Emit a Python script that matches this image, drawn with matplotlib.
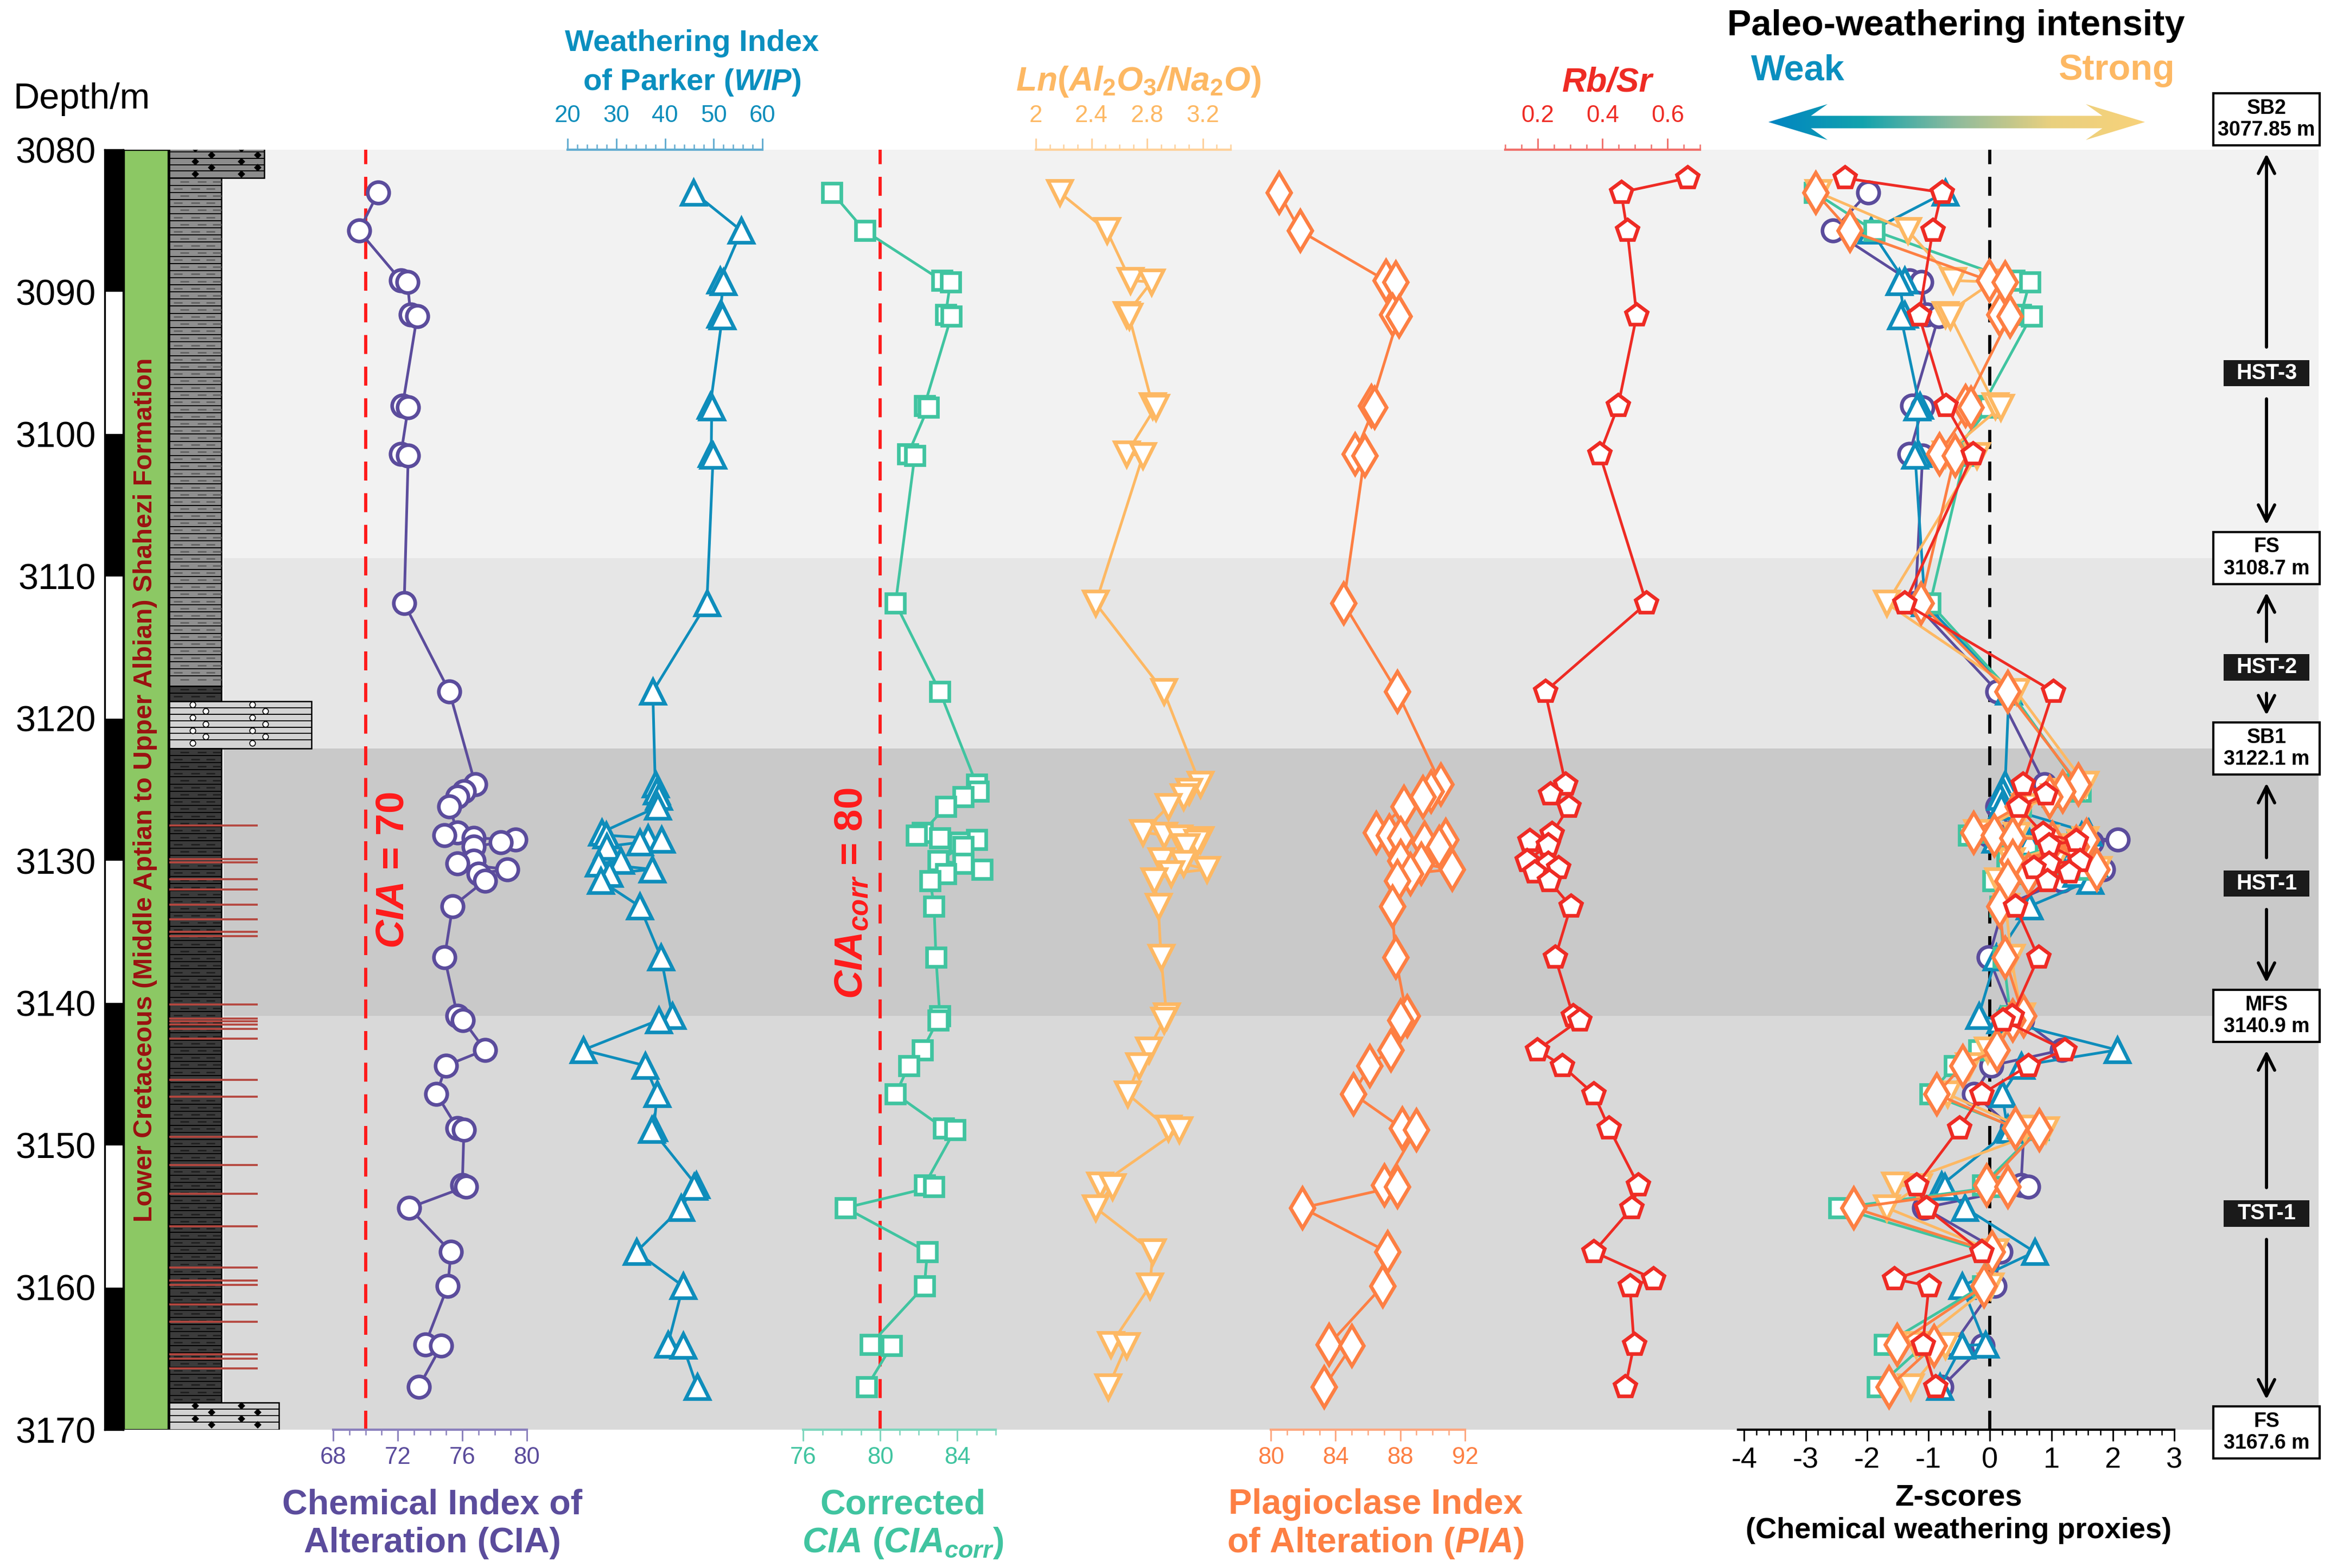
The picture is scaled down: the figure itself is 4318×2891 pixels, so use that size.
import numpy as np
import matplotlib
matplotlib.use('Agg')
import matplotlib.pyplot as plt
from matplotlib.patches import Rectangle, Polygon
from matplotlib.colors import LinearSegmentedColormap
from matplotlib.ticker import FixedLocator, MultipleLocator, FormatStrFormatter

plt.rcParams.update({
    'font.family': ['Liberation Sans', 'DejaVu Sans'],
    'mathtext.fontset': 'custom',
    'mathtext.rm': 'Liberation Sans:bold',
    'mathtext.it': 'Liberation Sans:italic:bold',
    'mathtext.bf': 'Liberation Sans:bold',
})

# ============================================================
# DATA
# ============================================================
DEPTH = [3083.0, 3085.7, 3089.2, 3089.3, 3091.6, 3091.7, 3098.0, 3098.1, 3101.4, 3101.5,
         3111.9, 3118.1, 3124.6, 3125.1, 3125.5, 3126.2, 3128.0, 3128.2, 3128.4, 3128.5,
         3128.7, 3129.0, 3130.0, 3130.2, 3130.6, 3130.9, 3131.4, 3133.2, 3136.8, 3140.9,
         3141.2, 3143.3, 3144.4, 3146.4, 3148.8, 3148.9, 3152.8, 3152.9, 3154.4, 3157.5,
         3159.9, 3164.0, 3164.1, 3167.0]

CIA = [70.8, 69.6, 72.2, 72.6, 72.8, 73.2, 72.3, 72.65, 72.2, 72.65,
       72.4, 75.2, 76.8, 76.1, 75.7, 75.2, 75.7, 74.9, 76.7, 79.3,
       78.4, 76.7, 76.7, 75.7, 78.8, 77.0, 77.4, 75.4, 74.9, 75.7,
       76.05, 77.4, 75.0, 74.4, 75.7, 76.1, 76.0, 76.25, 72.7, 75.3,
       75.1, 73.7, 74.7, 73.3]

WIP = [45.9, 55.7, 51.3, 52.0, 51.3, 51.8, 49.3, 49.6, 49.5, 49.9,
       48.6, 37.5, 38.0, 38.3, 38.7, 38.5, 27.0, 27.9, 36.5, 39.3,
       34.8, 28.0, 30.9, 26.3, 37.4, 28.6, 26.8, 34.8, 39.2, 41.5,
       38.7, 23.2, 35.9, 38.4, 37.7, 37.3, 46.4, 46.0, 43.3, 34.1,
       43.7, 40.6, 43.7, 46.6]

CIA_CORR = [77.5, 79.2, 83.2, 83.65, 83.4, 83.7, 82.3, 82.5, 81.45, 81.8,
            80.8, 83.1, 85.0, 85.1, 84.3, 83.4, 82.2, 81.9, 83.1, 85.0,
            84.1, 84.3, 83.0, 84.3, 85.3, 83.4, 82.6, 82.8, 82.9, 83.1,
            83.0, 82.2, 81.5, 80.8, 83.3, 83.9, 82.3, 82.8, 78.2, 82.45,
            82.3, 79.5, 80.6, 79.3]

LN_AL_NA = [2.17, 2.51, 2.68, 2.83, 2.65, 2.67, 2.84, 2.86, 2.65, 2.77,
            2.43, 2.92, 3.18, 3.10, 3.06, 2.95, 2.77, 2.92, 3.03, 3.18,
            3.16, 3.08, 2.90, 3.06, 3.23, 2.97, 2.85, 2.88, 2.90, 2.94,
            2.92, 2.81, 2.74, 2.66, 2.95, 3.03, 2.46, 2.55, 2.43, 2.84,
            2.82, 2.54, 2.65, 2.52]

PIA = [80.5, 81.8, 87.1, 87.7, 87.5, 87.9, 86.2, 86.4, 85.2, 85.8,
       84.5, 87.8, 90.5, 89.9, 89.4, 88.2, 86.5, 87.3, 88.0, 90.8,
       89.5, 90.4, 88.0, 89.3, 91.2, 88.6, 87.8, 87.5, 87.7, 88.4,
       88.0, 87.4, 86.1, 85.1, 88.1, 89.0, 87.0, 87.8, 81.95, 87.2,
       86.9, 83.6, 85.0, 83.3]

# Rb/Sr was measured on a slightly different sample set
RBSR_DEPTH = [3082.0, 3083.0, 3085.7, 3091.65, 3098.0, 3101.4, 3111.9, 3118.1, 3124.6, 3125.3,
              3126.2, 3128.1, 3128.6, 3128.9, 3130.0, 3130.2, 3130.5, 3130.8, 3131.4, 3133.2,
              3136.8, 3140.9, 3141.2, 3143.3, 3144.4, 3146.4, 3148.8, 3152.8, 3154.4, 3157.5,
              3159.4, 3159.9, 3164.0, 3167.0]
RBSR = [0.661, 0.457, 0.476, 0.505, 0.448, 0.391, 0.535, 0.223, 0.286, 0.239,
        0.296, 0.244, 0.175, 0.232, 0.167, 0.232, 0.264, 0.190, 0.235, 0.302,
        0.254, 0.309, 0.329, 0.199, 0.275, 0.373, 0.420, 0.510, 0.490, 0.373,
        0.557, 0.484, 0.497, 0.470]

# lithology log
LITH_TOP = [3079.7, 3082.0, 3117.7, 3118.8, 3122.1, 3168.1]
LITH_BASE = [3082.0, 3117.7, 3118.8, 3122.1, 3168.1, 3170.0]
LITH_KIND = ['sand_grey', 'mud_grey', 'mud_dark', 'congl', 'mud_dark', 'sand_light']
RED_LINES = [3127.5, 3129.9, 3130.1, 3131.3, 3132.0, 3133.1, 3134.1, 3135.0, 3135.3,
             3140.1, 3141.1, 3141.3, 3141.5, 3141.8, 3142.5, 3145.4, 3146.6, 3149.4,
             3151.4, 3153.4, 3155.7, 3158.6, 3159.5, 3159.8, 3161.2, 3162.4, 3164.7,
             3165.0, 3165.7]

# sequence stratigraphy
SURF_NAMES = ['SB2', 'FS', 'SB1', 'MFS', 'FS']
SURF_DEPTHS = [3077.85, 3108.7, 3122.1, 3140.9, 3167.6]
TRACT_NAMES = ['HST-3', 'HST-2', 'HST-1', 'TST-1']
TRACT_MID = [3095.7, 3116.4, 3131.6, 3154.8]
BAND_COLORS = ['#f2f2f2', '#e6e6e6', '#c9c9c9', '#d9d9d9']

# ============================================================
# STYLE / LAYOUT (pixel coords of the 4318 x 2891 canvas)
# ============================================================
W, H = 4318, 2891
TOP_PX, BOT_PX = 276, 2636
D_TOP, D_BOT = 3080, 3170

C_CIA = '#5b4c9c'
C_WIP = '#0e8dbb'
C_CORR = '#40c4a0'
C_LN = '#fdb863'
C_PIA = '#fd7f43'
C_RB = '#ee2b24'


def px_rect(x0, x1):
    return [x0 / W, 1 - BOT_PX / H, (x1 - x0) / W, (BOT_PX - TOP_PX) / H]


fig = plt.figure(figsize=(W / 300, H / 300), dpi=300)

# ---------------- base axes: background, lithology, sequences ----------------
base = fig.add_axes(px_rect(0, W))
base.set_xlim(0, W)
base.set_ylim(D_BOT, D_TOP)
base.axis('off')

band_edges = [D_TOP] + SURF_DEPTHS[1:4] + [D_BOT]
for i, c in enumerate(BAND_COLORS):
    base.fill_between([412, 4273], band_edges[i], band_edges[i + 1], color=c, lw=0, zorder=0)

# formation column
base.add_patch(Rectangle((228, D_TOP), 82, D_BOT - D_TOP, fc='#8cc864', ec='black', lw=0.8, zorder=2))
base.text(268, 3125, 'Lower Cretaceous (Middle Aptian to Upper Albian) Shahezi Formation',
          rotation=90, color='#9b1111', fontsize=11.6, fontweight='bold', ha='center', va='center', zorder=3)

# lithology column
LX0 = 312
kind_style = {'sand_grey': ('#8c8c8c', 487), 'mud_grey': ('#8f8f8f', 408),
              'mud_dark': ('#3b3b3b', 408), 'congl': ('#d3d3d3', 574),
              'sand_light': ('#d2d2d2', 514)}
for top, bot, kind in zip(LITH_TOP, LITH_BASE, LITH_KIND):
    fc, xr = kind_style[kind]
    base.add_patch(Rectangle((LX0, top), xr - LX0, bot - top, fc=fc, ec='black', lw=0.6, zorder=2))
    row = 0.5 if kind.startswith('mud') else 0.45
    edges = np.arange(top, bot + 1e-6, row)
    base.hlines(edges[1:-1], LX0, xr, color='black', lw=0.45, zorder=3)
    for j, (a, b) in enumerate(zip(edges[:-1], edges[1:])):
        yc = (a + b) / 2
        if kind.startswith('mud'):
            xs = np.array([340, 372, 400]) - (12 if j % 2 else 0)
            base.plot(xs, [yc] * 3, ls='', marker='_', ms=4, mew=0.6,
                      color='#1c1c1c' if kind == 'mud_dark' else '#5c5c5c', zorder=3)
        elif kind == 'congl':
            xs = np.arange(355, 560, 110) + (24 if j % 2 else 0)
            base.plot(xs, [yc] * len(xs), ls='', marker='o', ms=2.5, mfc='white', mec='black', mew=0.4, zorder=3)
        else:
            xs = np.arange(360, xr - 20, 85) + (30 if j % 2 else 0)
            base.plot(xs, [yc] * len(xs), ls='', marker='D', ms=1.3, color='black', zorder=3)
base.hlines(RED_LINES, LX0, 475, color='#b5473f', lw=0.9, zorder=4)

# sequence boxes and arrows
XC = 4177
BOX_HALF = 1.83
TR_HALF = 0.92
box_y = list(SURF_DEPTHS)
box_y[-1] = 3170.2          # last label sits just below the log
for name, d, yb in zip(SURF_NAMES, SURF_DEPTHS, box_y):
    base.add_patch(Rectangle((XC - 98, yb - BOX_HALF), 196, 2 * BOX_HALF, fc='white', ec='black',
                             lw=1.0, clip_on=False, zorder=5))
    base.text(XC, yb, f'{name}\n{d:g} m', ha='center', va='center', fontsize=9,
              fontweight='bold', linespacing=1.15, clip_on=False, zorder=6)
for i, (name, ym) in enumerate(zip(TRACT_NAMES, TRACT_MID)):
    base.add_patch(Rectangle((XC - 79, ym - TR_HALF), 158, 2 * TR_HALF, fc='#1a1a1a', ec='none', zorder=5))
    base.text(XC, ym, name, color='white', ha='center', va='center', fontsize=9.5, fontweight='bold', zorder=6)
    up_tip = box_y[i] + BOX_HALF + 0.6
    dn_tip = box_y[i + 1] - BOX_HALF - 0.5
    for start, tip in [(ym - TR_HALF - 0.9, up_tip), (ym + TR_HALF + 0.9, dn_tip)]:
        base.annotate('', xy=(XC, tip), xytext=(XC, start), annotation_clip=False,
                      arrowprops=dict(arrowstyle='->', lw=1.4, color='black', mutation_scale=18,
                                      shrinkA=0, shrinkB=0), zorder=6)

# depth scale column
dax = fig.add_axes(px_rect(193, 227))
dax.set_xlim(0, 1)
dax.set_ylim(D_BOT, D_TOP)
for i, d in enumerate(range(D_TOP, D_BOT, 10)):
    dax.add_patch(Rectangle((0, d), 1, 10, fc='black' if i % 2 == 0 else 'white', ec='none'))
dax.set_xticks([])
dax.set_yticks(np.arange(D_TOP, D_BOT + 1, 10))
dax.tick_params(axis='y', length=0, labelsize=16, pad=4)
for s in dax.spines.values():
    s.set_linewidth(0.8)


# ---------------- proxy panels ----------------
def make_panel(x0, x1, lim, side, color, major, minor, fmt='%g', labelsize=10.5, pad=2.5):
    ax = fig.add_axes(px_rect(x0, x1))
    ax.set_xlim(*lim)
    ax.set_ylim(D_BOT, D_TOP)
    ax.patch.set_visible(False)
    for s in ax.spines.values():
        s.set_visible(False)
    ax.spines[side].set_visible(True)
    ax.spines[side].set_color(color)
    ax.spines[side].set_linewidth(1.0)
    ax.yaxis.set_visible(False)
    if side == 'top':
        ax.xaxis.tick_top()
    else:
        ax.xaxis.tick_bottom()
    ax.xaxis.set_major_locator(FixedLocator(major))
    ax.xaxis.set_minor_locator(MultipleLocator(minor))
    ax.xaxis.set_major_formatter(FormatStrFormatter(fmt))
    ax.tick_params(axis='x', which='major', length=5, width=0.7, color=color,
                   labelcolor=color, labelsize=labelsize, pad=pad, direction='out')
    ax.tick_params(axis='x', which='minor', length=2.5, width=0.6, color=color, direction='out')
    return ax


def draw(ax, vals, depth, color, marker, ms):
    ax.plot(vals, depth, color=color, lw=1.2, marker=marker, ms=ms, mfc='white',
            mec=color, mew=1.6, zorder=3, clip_on=False)


ax_cia = make_panel(614, 971, (68, 80), 'bottom', '#8a80bd', [68, 72, 76, 80], 1)
ax_wip = make_panel(1046, 1405, (20, 60), 'top', '#62acd0', [20, 30, 40, 50, 60], 2, pad=5)
ax_corr = make_panel(1480, 1835, (76, 86), 'bottom', '#7dd6bd', [76, 80, 84], 1)
ax_ln = make_panel(1909, 2268, (2, 3.4), 'top', '#fed19b', [2, 2.4, 2.8, 3.2], 0.1, pad=5)
ax_pia = make_panel(2342, 2700, (80, 92), 'bottom', '#fda77f', [80, 84, 88, 92], 1)
ax_rb = make_panel(2774, 3133, (0.1, 0.7), 'top', '#f0706b', [0.2, 0.4, 0.6], 0.05, pad=5)
ax_z = make_panel(3203, 4007, (-4.1, 3), 'bottom', 'black', list(range(-4, 4)), 0.2,
                  labelsize=13, pad=2.5)
for ax, c in [(ax_cia, C_CIA), (ax_corr, C_CORR), (ax_pia, C_PIA),
              (ax_wip, C_WIP), (ax_ln, C_LN), (ax_rb, C_RB)]:
    ax.tick_params(axis='x', labelcolor=c)

ax_cia.axvline(70, color='#ff1a1a', lw=1.4, ls=(0, (6, 4)), zorder=1)
ax_corr.axvline(80, color='#ff1a1a', lw=1.4, ls=(0, (6, 4)), zorder=1)
ax_z.axvline(0, color='black', lw=1.4, ls=(0, (6, 4)), zorder=1)

draw(ax_cia, CIA, DEPTH, C_CIA, 'o', 9.5)
draw(ax_wip, WIP, DEPTH, C_WIP, '^', 10.5)
draw(ax_corr, CIA_CORR, DEPTH, C_CORR, 's', 8)
draw(ax_ln, LN_AL_NA, DEPTH, C_LN, 'v', 10.5)
draw(ax_pia, PIA, DEPTH, C_PIA, 'd', 12.5)
draw(ax_rb, RBSR, RBSR_DEPTH, C_RB, 'p', 10)

# Z-score panel: standardised proxies, WIP and Rb/Sr sign-flipped so that
# positive = stronger weathering
z_series = [(CIA, DEPTH, 1, C_CIA, 'o', 9.5), (WIP, DEPTH, -1, C_WIP, '^', 10.5),
            (CIA_CORR, DEPTH, 1, C_CORR, 's', 8), (LN_AL_NA, DEPTH, 1, C_LN, 'v', 10.5),
            (PIA, DEPTH, 1, C_PIA, 'd', 12.5), (RBSR, RBSR_DEPTH, -1, C_RB, 'p', 10)]
for vals, dep, sign, c, m, ms in z_series:
    v = np.asarray(vals, dtype=float)
    z = sign * (v - v.mean()) / v.std()
    draw(ax_z, z, dep, c, m, ms)

# ---------------- overlay: titles & gradient arrow (pixel coords) ----------------
ov = fig.add_axes([0, 0, 1, 1])
ov.patch.set_visible(False)

top_kw = dict(ha='center', va='center', fontweight='bold', fontsize=13.5)
bot_kw = dict(ha='center', va='center', fontweight='bold', fontsize=15.5)
ov.text(25, 183, 'Depth/m', ha='left', va='center', fontsize=16)
ov.text(1275, 80, 'Weathering Index', color='#0a8fbf', **top_kw)
ov.text(1275, 152, r'of Parker ($\mathit{WIP}$)', color='#0a8fbf', **top_kw)
ov.text(2098, 150, r'$\mathit{Ln(Al_2O_3}$/$\mathit{Na_2O)}$', color=C_LN, fontstyle='italic',
        ha='center', va='center', fontweight='bold', fontsize=15)
ov.text(2962, 152, 'Rb/Sr', color=C_RB, fontstyle='italic', ha='center', va='center',
        fontweight='bold', fontsize=15)
ov.text(797, 2774, 'Chemical Index of', color=C_CIA, **bot_kw)
ov.text(797, 2845, 'Alteration (CIA)', color=C_CIA, **bot_kw)
ov.text(1664, 2774, 'Corrected', color=C_CORR, **bot_kw)
ov.text(1664, 2845, r'$\mathit{CIA}$ ($\mathit{CIA_{corr}}$)', color=C_CORR, **bot_kw)
ov.text(2535, 2774, 'Plagioclase Index', color=C_PIA, **bot_kw)
ov.text(2535, 2845, r'of Alteration ($\mathit{PIA}$)', color=C_PIA, **bot_kw)
ov.text(3610, 2762, 'Z-scores', color='black', ha='center', va='center', fontweight='bold', fontsize=13.5)
ov.text(3610, 2822, '(Chemical weathering proxies)', color='black', ha='center', va='center',
        fontweight='bold', fontsize=13)

ov.text(725, 1605, r'$\mathit{CIA}$ = 70', rotation=90, color='#ff1a1a', ha='center', va='center',
        fontsize=17.5, fontweight='bold')
ov.text(1570, 1647, r'$\mathit{CIA_{corr}}$ = 80', rotation=90, color='#ff1a1a', ha='center',
        va='center', fontsize=17.5, fontweight='bold')

ov.text(3605, 48, 'Paleo-weathering intensity', ha='center', va='center', fontsize=16,
        fontweight='bold')
ov.text(3313, 130, 'Weak', color='#0a8fbf', ha='center', va='center', fontsize=16, fontweight='bold')
ov.text(3900, 130, 'Strong', color='#fdb863', ha='center', va='center', fontsize=16, fontweight='bold')

x0, x1, yc = 3259, 3953, 225
sh, hh, hl = 11.5, 33, 109
arrow_pts = [(x0, yc), (x0 + hl, yc - hh), (x0 + 0.72 * hl, yc - sh), (x1 - 0.72 * hl, yc - sh),
             (x1 - hl, yc - hh), (x1, yc), (x1 - hl, yc + hh), (x1 - 0.72 * hl, yc + sh),
             (x0 + 0.72 * hl, yc + sh), (x0 + hl, yc + hh)]
poly = Polygon(arrow_pts, closed=True, fc='none', ec='none')
ov.add_patch(poly)
grad_cmap = LinearSegmentedColormap.from_list('wk', ['#0084c2', '#12a3ad', '#8fbb9c', '#e9d07f', '#f8d27a'])
im = ov.imshow(np.linspace(0, 1, 256).reshape(1, -1), extent=[x0, x1, yc + hh, yc - hh],
               cmap=grad_cmap, aspect='auto', interpolation='bilinear')
im.set_clip_path(poly)

ov.set_xlim(0, W)
ov.set_ylim(H, 0)
ov.axis('off')

fig.savefig('out.png', dpi=300)
